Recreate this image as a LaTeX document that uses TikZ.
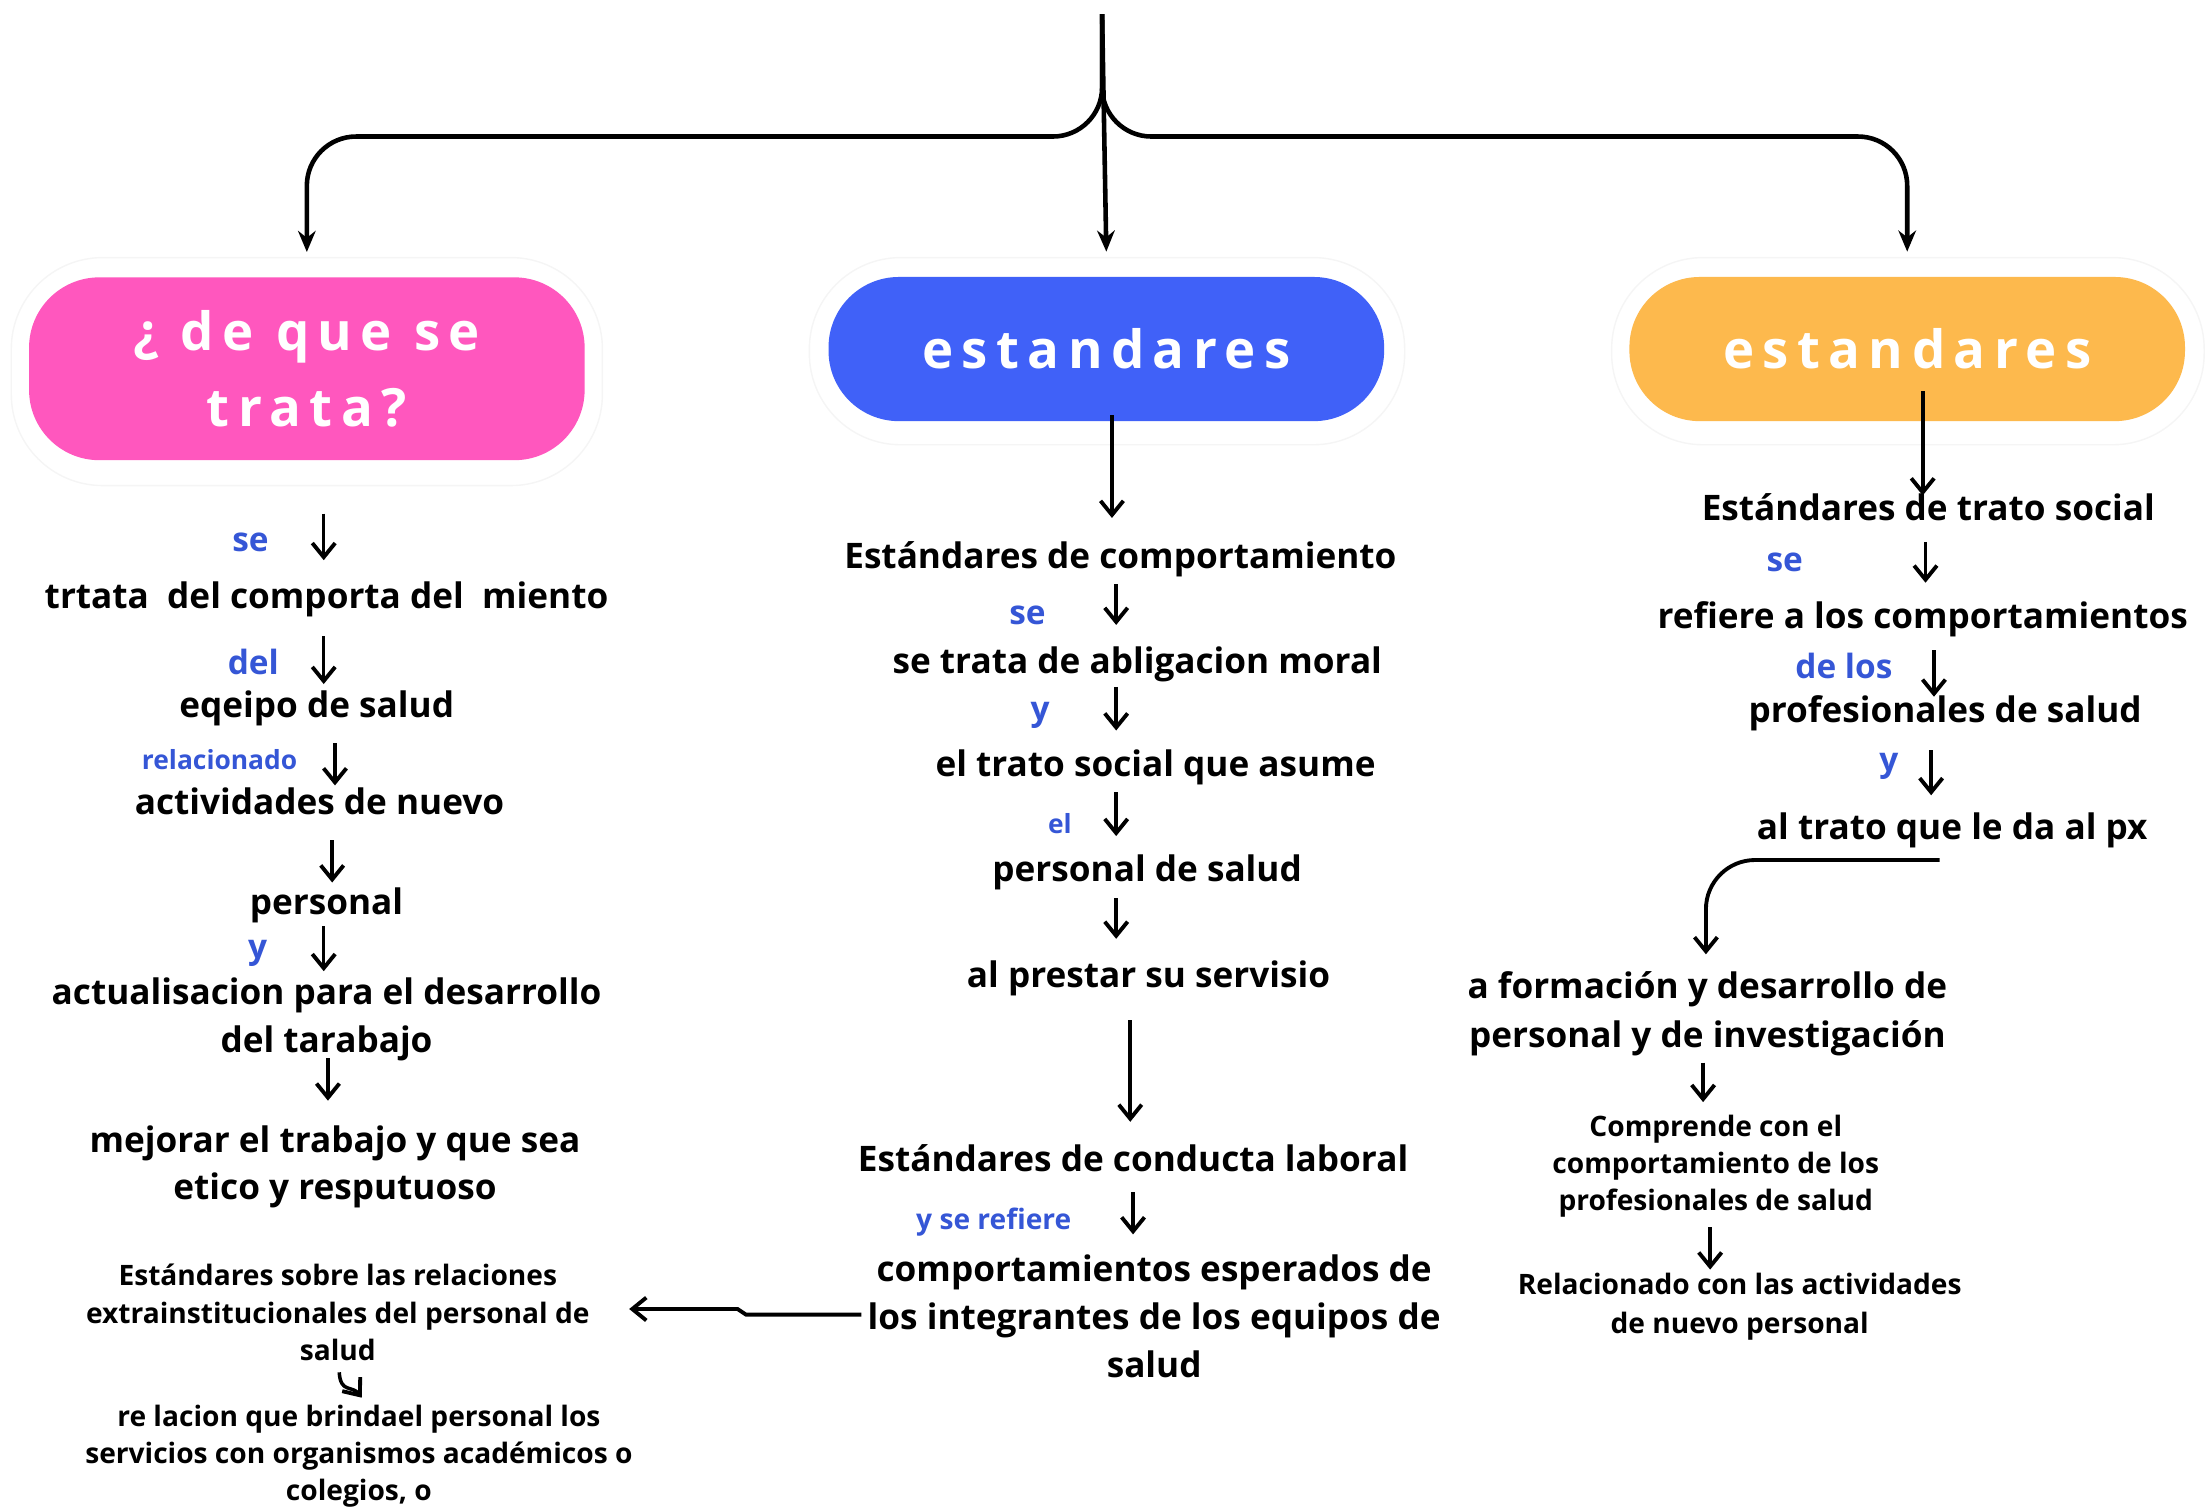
\documentclass[tikz,border=0pt]{standalone}
\usepackage{fontspec}
\setmainfont{Open Sans}
\newfontfamily\titlefont[LetterSpace=16]{Open Sans}
\usepackage{xcolor}
\usetikzlibrary{positioning,arrows.meta}
\definecolor{pinkbox}{HTML}{FF57BE}
\definecolor{bluebox}{HTML}{4061F8}
\definecolor{orangebox}{HTML}{FDB94D}
\definecolor{linkblue}{HTML}{3556D6}

\begin{document}
\begin{tikzpicture}[x=0.014075cm,y=-0.014075cm,
    box/.style={rounded corners=20pt, minimum width=158pt, text=white, align=center, inner sep=0pt,
      font=\titlefont\bfseries\fontsize{15}{21.6}\selectfont},
    halo/.style={draw=gray!8, rounded corners=26pt, fill=white},
    txt/.style={font=\bfseries\fontsize{10}{13.6}\selectfont, align=center, inner sep=0pt, yshift=-1.2pt},
    sml/.style={font=\bfseries\fontsize{8}{10.6}\selectfont, align=center, inner sep=0pt, yshift=-1pt},
    lnk/.style={text=linkblue, font=\bfseries\fontsize{9.5}{12}\selectfont, inner sep=0pt, yshift=-1pt},
    lnksm/.style={text=linkblue, font=\bfseries\fontsize{7.5}{9}\selectfont, inner sep=0pt, yshift=-1pt},
    arr/.style={-{Straight Barb[length=4pt,width=6.5pt,line width=1.1pt]}, line width=1pt},
    bigarr/.style={-{Stealth[length=6pt,width=5pt]}, line width=1.3pt}]

    \useasboundingbox (0,0) rectangle (1568,1071);

    % Halos
    \draw[halo] (8,183) rectangle (428,345);
    \draw[halo] (575,183) rectangle (998,316);
    \draw[halo] (1145,183) rectangle (1566,316);

    % Title boxes
    \node[box, fill=pinkbox, minimum height=52pt] (pink) at (218,262) {¿ de que se\\trata?};
    \node[box, fill=bluebox, minimum height=41pt] (blue) at (786,248) {estandares};
    \node[box, fill=orangebox, minimum height=41pt] (orange) at (1355,248) {estandares};

    % Brace
    \coordinate (root) at (783,10);
    \coordinate (split) at (783,97);
    \draw[bigarr, rounded corners=14pt] (root) -- (split) -| ([yshift=7pt]pink.north);
    \draw[bigarr, rounded corners=14pt] (root) -- (split) -| ([yshift=7pt]orange.north);
    \draw[bigarr] (root) -- ([yshift=7pt]blue.north);

    % Left column
    \node[lnk] (l1) at (178,383) {se};
    \node[txt] (t1) at (232,423) {trtata\ \ del comporta del\ \ miento};
    \node[lnk] (l2) at (180,468) {del};
    \node[txt] (t2) at (225,500) {eqeipo de salud};
    \node[lnksm] (l3) at (156,537) {relacionado};
    \node[txt] (t3) at (227,566) {actividades de nuevo};
    \node[txt] (t4) at (232,640) {personal};
    \node[lnk] (l4) at (183,675) {y};
    \node[txt] (t5) at (232,721) {actualisacion para el desarrollo\\del tarabajo};
    \node[txt] (t6) at (238,826) {mejorar el trabajo y que sea\\etico y resputuoso};
    \node[sml] (t7) at (240,930) {Estándares sobre las relaciones\\extrainstitucionales del personal de\\salud};
    \node[sml] (t8) at (255,1032) {re lacion que brindael personal los\\servicios con organismos académicos o\\colegios, o};

    \coordinate (la1) at (230,365); \coordinate (lb1) at (230,398); \draw[arr] (la1) -- (lb1);
    \coordinate (la2) at (230,452); \coordinate (lb2) at (230,486); \draw[arr] (la2) -- (lb2);
    \coordinate (la3) at (238,528); \coordinate (lb3) at (238,558); \draw[arr] (la3) -- (lb3);
    \coordinate (la4) at (236,597); \coordinate (lb4) at (236,627); \draw[arr] (la4) -- (lb4);
    \coordinate (la5) at (230,658); \coordinate (lb5) at (230,690); \draw[arr] (la5) -- (lb5);
    \coordinate (la6) at (233,752); \coordinate (lb6) at (233,782); \draw[arr] (la6) -- (lb6);
    \coordinate (wa) at (241,975); \coordinate (wb) at (257,993);
    \draw[arr] (wa) .. controls (242,990) and (250,984) .. (wb);

    % Middle column
    \node[txt] (m1) at (796,394) {Estándares de comportamiento};
    \node[lnk] (ml1) at (730,435) {se};
    \node[txt] (m2) at (808,469) {se trata de abligacion moral};
    \node[lnk] (ml2) at (739,506) {y};
    \node[txt] (m3) at (821,542) {el trato social que asume};
    \node[lnksm] (ml3) at (753,583) {el};
    \node[txt] (m4) at (815,617) {personal de salud};
    \node[txt] (m5) at (816,692) {al prestar su servisio};
    \node[txt] (m6) at (805,820) {Estándares de conducta laboral};
    \node[lnksm, font=\bfseries\fontsize{8}{10}\selectfont] (ml4) at (706,866) {y se refiere};
    \node[txt] (m7) at (820,932) {comportamientos esperados de\\los integrantes de los equipos de\\salud};

    \coordinate (ma0) at (790,295); \coordinate (mb0) at (790,368); \draw[arr, line width=1.1pt] (ma0) -- (mb0);
    \coordinate (ma1) at (793,415); \coordinate (mb1) at (793,444); \draw[arr] (ma1) -- (mb1);
    \coordinate (ma2) at (793,488); \coordinate (mb2) at (793,519); \draw[arr] (ma2) -- (mb2);
    \coordinate (ma3) at (793,563); \coordinate (mb3) at (793,594); \draw[arr] (ma3) -- (mb3);
    \coordinate (ma4) at (793,638); \coordinate (mb4) at (793,667); \draw[arr] (ma4) -- (mb4);
    \coordinate (ma5) at (803,725); \coordinate (mb5) at (803,797); \draw[arr, line width=1.1pt] (ma5) -- (mb5);
    \coordinate (ma6) at (805,847); \coordinate (mb6) at (805,877); \draw[arr] (ma6) -- (mb6);

    % to the left column
    \coordinate (ka) at (612,934); \coordinate (kb) at (530,934);
    \coordinate (kc) at (524,930); \coordinate (kd) at (447,930);
    \draw[arr, line width=1.1pt] (ka) -- (kb) -- (kc) -- (kd);

    % Right column
    \node[txt] (r1) at (1370,357) {Estándares de trato social};
    \node[lnk] (rl1) at (1268,397) {se};
    \node[txt] (r2) at (1366,437) {refiere a los comportamientos};
    \node[lnk] (rl2) at (1310,471) {de los};
    \node[txt] (r3) at (1382,504) {profesionales de salud};
    \node[lnk] (rl3) at (1342,542) {y};
    \node[txt] (r4) at (1387,587) {al trato que le da al px};
    \node[txt, font=\bfseries\fontsize{10}{14}\selectfont] (r5) at (1213,717) {a formación y desarrollo de\\personal y de investigación};
    \node[sml] (r6) at (1219,826) {Comprende con el\\comportamiento de los\\profesionales de salud};
    \node[sml, font=\bfseries\fontsize{8}{11}\selectfont] (r7) at (1236,926) {Relacionado con las actividades\\de nuevo personal};

    \coordinate (ra0) at (1366,278); \coordinate (rb0) at (1366,352); \draw[arr, line width=1.1pt] (ra0) -- (rb0);
    \coordinate (ra1) at (1368,385); \coordinate (rb1) at (1368,414); \draw[arr] (ra1) -- (rb1);
    \coordinate (ra2) at (1374,462); \coordinate (rb2) at (1374,495); \draw[arr] (ra2) -- (rb2);
    \coordinate (ra3) at (1372,533); \coordinate (rb3) at (1372,565); \draw[arr] (ra3) -- (rb3);
    \coordinate (ra4) at (1378,611); \coordinate (rb4) at (1212,678);
    \draw[arr, line width=1.1pt, rounded corners=14pt] (ra4) -| (rb4);
    \coordinate (ra5) at (1210,755); \coordinate (rb5) at (1210,783); \draw[arr] (ra5) -- (rb5);
    \coordinate (ra6) at (1215,872); \coordinate (rb6) at (1215,902); \draw[arr] (ra6) -- (rb6);
\end{tikzpicture}
\end{document}
